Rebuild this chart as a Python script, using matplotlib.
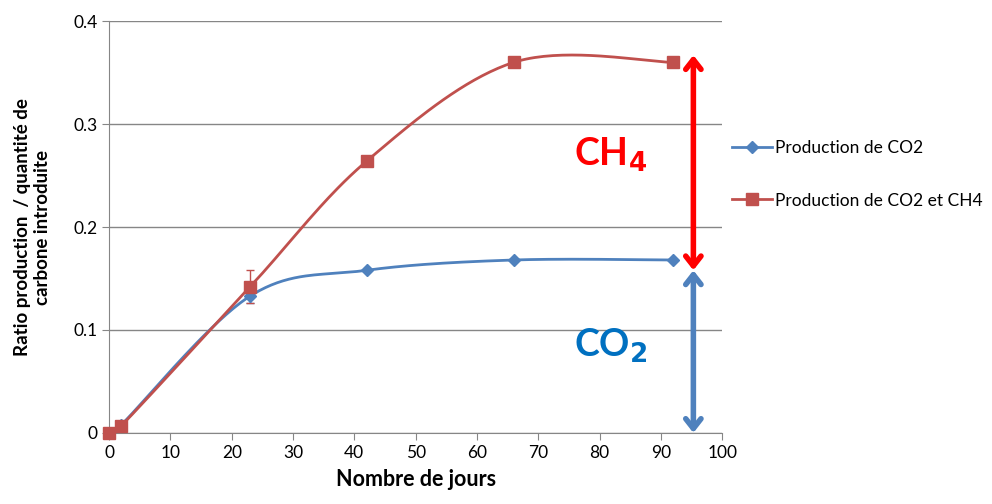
import numpy as np
import matplotlib
matplotlib.use("Agg")
import matplotlib.pyplot as plt

plt.rcParams['font.family'] = ['Lato', 'DejaVu Sans']

# data
jours = [0, 2, 23, 42, 66, 92]
co2 = [0, 0.008, 0.133, 0.158, 0.168, 0.168]
co2_ch4 = [0, 0.007, 0.142, 0.264, 0.360, 0.360]
err_co2 = [0, 0, 0.007, 0, 0, 0]
err_ch4 = [0, 0, 0.016, 0, 0, 0]

blue = '#4F81BD'
red = '#C0504D'


def smooth(x, y, n=40):
    # excel-like smoothed line (catmull-rom as cubic bezier)
    x = np.asarray(x, float)
    y = np.asarray(y, float)
    px = np.concatenate([[x[0]], x, [x[-1]]])
    py = np.concatenate([[y[0]], y, [y[-1]]])
    xs, ys = [], []
    t = np.linspace(0, 1, n)
    for i in range(1, len(px) - 2):
        p0 = np.array([px[i], py[i]])
        p3 = np.array([px[i + 1], py[i + 1]])
        p1 = p0 + (np.array([px[i + 1], py[i + 1]]) - np.array([px[i - 1], py[i - 1]])) / 6
        p2 = p3 - (np.array([px[i + 2], py[i + 2]]) - np.array([px[i], py[i]])) / 6
        b = ((1 - t) ** 3)[:, None] * p0 + (3 * (1 - t) ** 2 * t)[:, None] * p1 \
            + (3 * (1 - t) * t ** 2)[:, None] * p2 + (t ** 3)[:, None] * p3
        xs.extend(b[:, 0])
        ys.extend(b[:, 1])
    return xs, ys


fig = plt.figure(figsize=(9.92, 5.04), dpi=100)
ax = fig.add_axes([0.11, 0.141, 0.618, 0.817])

sx, sy = smooth(jours, co2)
ax.plot(sx, sy, color=blue, lw=2, zorder=3, clip_on=False)
ax.errorbar(jours, co2, yerr=err_co2, fmt='none', ecolor=blue, elinewidth=1, capsize=3, zorder=3)
ax.plot(jours, co2, ls='none', marker='D', ms=6, color=blue, zorder=4, clip_on=False)
ax.plot([], [], color=blue, lw=2, marker='D', ms=6, label='Production de CO2')

sx, sy = smooth(jours, co2_ch4)
ax.plot(sx, sy, color=red, lw=2, zorder=3, clip_on=False)
ax.errorbar(jours, co2_ch4, yerr=err_ch4, fmt='none', ecolor=red, elinewidth=1, capsize=3, zorder=3)
ax.plot(jours, co2_ch4, ls='none', marker='s', ms=8, color=red, zorder=4, clip_on=False)
ax.plot([], [], color=red, lw=2, marker='s', ms=8, label='Production de CO2 et CH4')

# arrows
ax.annotate('', xy=(95.3, 0.367), xytext=(95.3, 0.158), annotation_clip=False,
            arrowprops=dict(arrowstyle='<->,head_length=0.7,head_width=0.55', color='#FF0000', lw=4,
                            shrinkA=0, shrinkB=0), zorder=5)
ax.annotate('', xy=(95.3, 0.158), xytext=(95.3, 0.0), annotation_clip=False,
            arrowprops=dict(arrowstyle='<->,head_length=0.7,head_width=0.55', color=blue, lw=4,
                            shrinkA=0, shrinkB=0), zorder=5)
ax.text(81.8, 0.27, r'CH$_\mathbf{4}$', color='#FF0000', fontsize=27, fontweight='bold',
        ha='center', va='center')
ax.text(81.8, 0.085, r'CO$_\mathbf{2}$', color='#0070C0', fontsize=27, fontweight='bold',
        ha='center', va='center')

ax.set_xlim(0, 100)
ax.set_ylim(0, 0.4)
ax.set_xticks(np.arange(0, 101, 10))
ax.set_yticks([0, 0.1, 0.2, 0.3, 0.4])
ax.set_yticklabels(['0', '0.1', '0.2', '0.3', '0.4'])
ax.yaxis.grid(True, color='#868686', lw=1)
ax.set_axisbelow(True)
for s in ['top', 'right']:
    ax.spines[s].set_visible(False)
for s in ['left', 'bottom']:
    ax.spines[s].set_color('#868686')
ax.tick_params(axis='both', colors='#868686', labelcolor='black', labelsize=12.5, length=5, direction='out')
ax.set_xlabel('Nombre de jours', fontsize=15.5, fontweight='bold', labelpad=6)
ax.set_ylabel('Ratio production  / quantité de\ncarbone introduite', fontsize=13.5,
              fontweight='bold', labelpad=16)

ax.legend(loc='center left', bbox_to_anchor=(0.99, 0.628), frameon=False, fontsize=12.5,
          handlelength=2.3, handletextpad=0.2, labelspacing=2.1)

fig.savefig('out.png', dpi=100)
